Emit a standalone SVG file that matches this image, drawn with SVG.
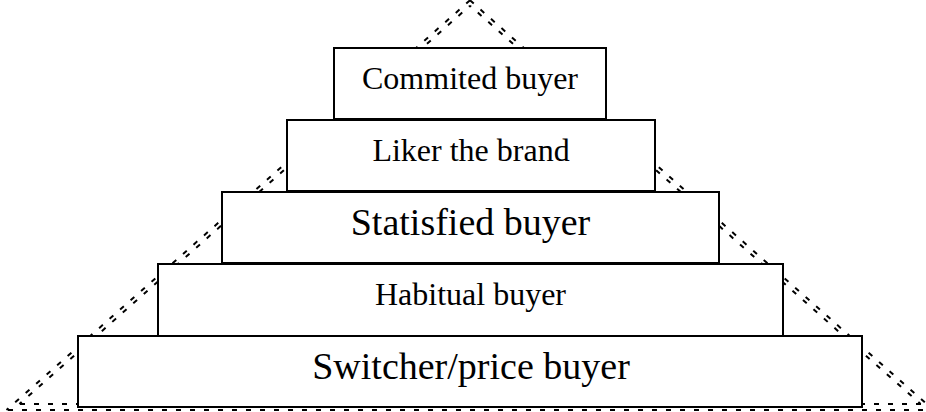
<svg xmlns="http://www.w3.org/2000/svg" width="926" height="412" viewBox="0 0 926 412">
<style>
.dash{fill:none;stroke:#000;stroke-width:2;stroke-dasharray:5 9;}
.in{stroke-dashoffset:3.6;}
.box{fill:#fff;stroke:#000;stroke-width:2;}
.lbl{font-family:"Liberation Serif","Times New Roman",serif;font-size:32px;fill:#000;text-anchor:middle;}
.big{font-size:38px;}
</style>
<rect width="926" height="412" fill="#fff"/>
<g id="outline">
<line class="dash" x1="470" y1="0.3" x2="6.5" y2="410"/>
<line class="dash in" x1="470" y1="5.7" x2="19.4" y2="404"/>
<line class="dash" x1="470" y1="0.3" x2="933.5" y2="410"/>
<line class="dash in" x1="470" y1="5.7" x2="920.6" y2="404"/>
<line class="dash" x1="8" y1="410" x2="926" y2="410"/>
<line class="dash" x1="20" y1="404" x2="926" y2="404"/>
</g>
<g id="switcher">
<rect class="box" x="78" y="336" width="784" height="71"/>
<text class="lbl big" x="471" y="378.5">Switcher/price buyer</text>
</g>
<g id="habitual">
<rect class="box" x="158" y="264" width="625" height="72"/>
<text class="lbl" x="470.5" y="305">Habitual buyer</text>
</g>
<g id="satisfied">
<rect class="box" x="222" y="192" width="497" height="71"/>
<text class="lbl big" x="470.5" y="234.5">Statisfied buyer</text>
</g>
<g id="liker">
<rect class="box" x="287" y="120" width="368" height="71"/>
<text class="lbl" x="471" y="161">Liker the brand</text>
</g>
<g id="committed">
<rect class="box" x="334" y="48" width="272" height="71"/>
<text class="lbl" x="470" y="89">Commited buyer</text>
</g>
</svg>
